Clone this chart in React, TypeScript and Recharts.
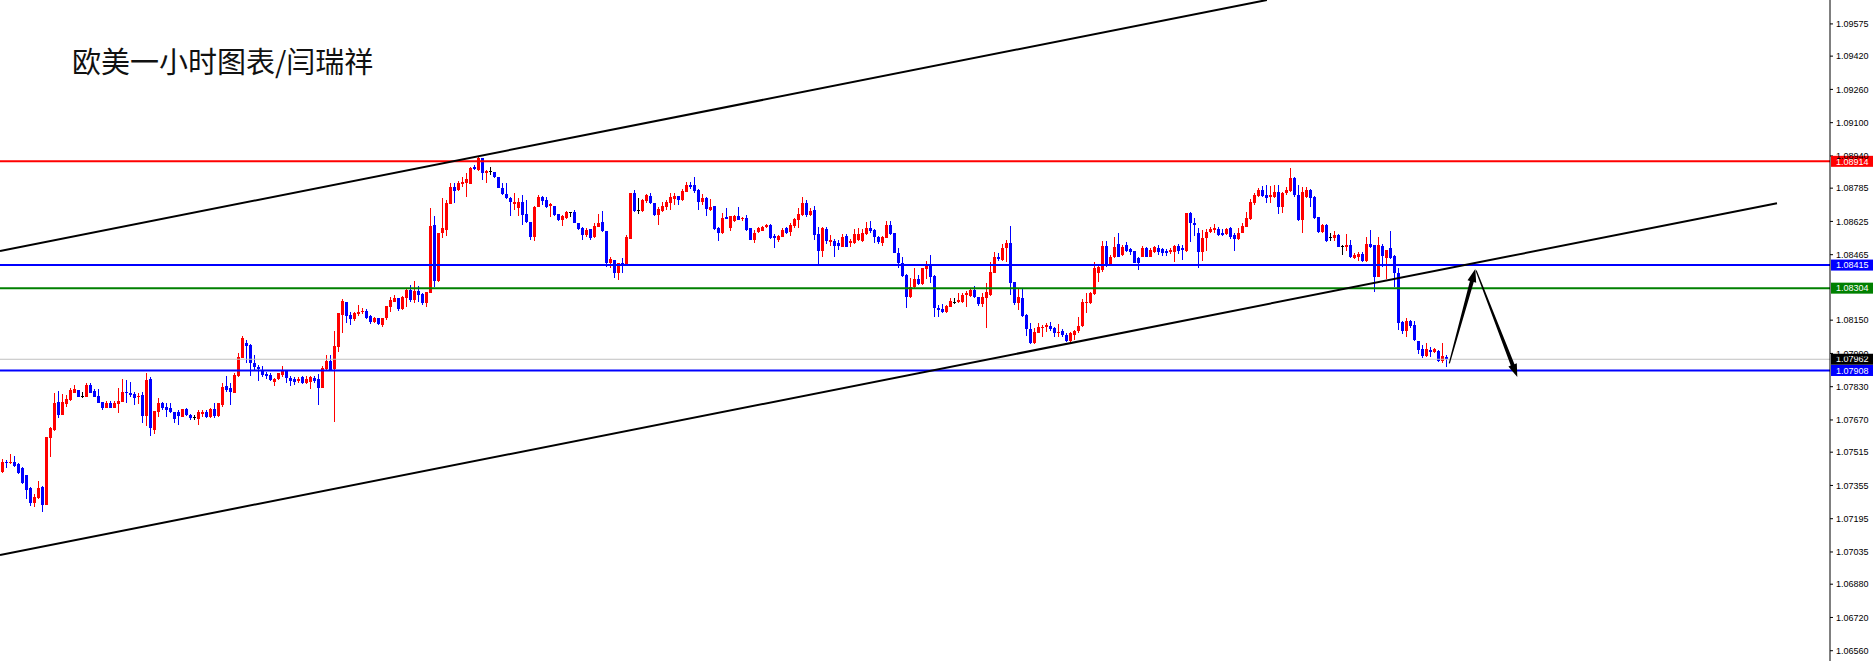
import React from 'react';
import { ComposedChart, Bar, XAxis, YAxis, ReferenceLine, ReferenceDot } from 'recharts';

// ---- EURUSD H1 candles ----
const openP = [
1.07420,1.07468,1.07463,1.07468,1.07458,1.07439,1.07405,1.07343,1.07271,1.07295,
1.07348,1.07261,1.07583,1.07622,1.07756,1.07694,1.07747,1.07766,1.07800,1.07814,
1.07785,1.07781,1.07838,1.07809,1.07785,1.07756,1.07728,1.07752,1.07728,1.07747,
1.07756,1.07805,1.07800,1.07795,1.07781,1.07790,1.07689,1.07867,1.07622,1.07708,
1.07752,1.07732,1.07728,1.07708,1.07708,1.07684,1.07723,1.07694,1.07684,1.07675,
1.07699,1.07708,1.07684,1.07723,1.07689,1.07742,1.07833,1.07824,1.07800,1.07881,
1.07968,1.08040,1.08031,1.07944,1.07925,1.07910,1.07891,1.07886,1.07853,1.07867,
1.07886,1.07906,1.07872,1.07867,1.07857,1.07877,1.07848,1.07853,1.07872,1.07867,
1.07824,1.07915,1.07954,1.07915,1.08021,1.08175,1.08237,1.08175,1.08156,1.08180,
1.08189,1.08194,1.08170,1.08141,1.08160,1.08127,1.08160,1.08213,1.08237,1.08257,
1.08204,1.08257,1.08295,1.08247,1.08290,1.08276,1.08233,1.08281,1.08608,1.08338,
1.08569,1.08584,1.08709,1.08791,1.08776,1.08805,1.08810,1.08805,1.08887,1.08872,
1.08930,1.08858,1.08868,1.08863,1.08839,1.08786,1.08757,1.08738,1.08709,1.08690,
1.08718,1.08661,1.08622,1.08550,1.08694,1.08742,1.08728,1.08699,1.08699,1.08661,
1.08632,1.08641,1.08670,1.08670,1.08617,1.08593,1.08560,1.08589,1.08550,1.08598,
1.08622,1.08579,1.08425,1.08439,1.08377,1.08425,1.08415,1.08540,1.08762,1.08680,
1.08675,1.08723,1.08747,1.08714,1.08656,1.08675,1.08694,1.08714,1.08733,1.08747,
1.08728,1.08767,1.08800,1.08800,1.08776,1.08718,1.08738,1.08680,1.08699,1.08593,
1.08569,1.08646,1.08593,1.08627,1.08651,1.08637,1.08641,1.08593,1.08536,1.08574,
1.08579,1.08598,1.08608,1.08555,1.08536,1.08550,1.08593,1.08574,1.08603,1.08632,
1.08656,1.08714,1.08656,1.08680,1.08565,1.08483,1.08589,1.08526,1.08531,1.08521,
1.08502,1.08555,1.08521,1.08521,1.08536,1.08531,1.08565,1.08593,1.08584,1.08550,
1.08521,1.08545,1.08608,1.08569,1.08473,1.08425,1.08367,1.08261,1.08310,1.08348,
1.08324,1.08396,1.08415,1.08362,1.08209,1.08204,1.08189,1.08213,1.08237,1.08237,
1.08237,1.08271,1.08266,1.08295,1.08261,1.08228,1.08257,1.08271,1.08377,1.08454,
1.08439,1.08497,1.08521,1.08334,1.08233,1.08257,1.08175,1.08108,1.08040,1.08088,
1.08112,1.08117,1.08122,1.08112,1.08088,1.08098,1.08079,1.08050,1.08079,1.08098,
1.08122,1.08233,1.08233,1.08276,1.08377,1.08391,1.08507,1.08420,1.08454,1.08516,
1.08463,1.08512,1.08492,1.08483,1.08449,1.08454,1.08497,1.08454,1.08478,1.08497,
1.08492,1.08483,1.08478,1.08478,1.08507,1.08497,1.08483,1.08666,1.08617,1.08569,
1.08478,1.08545,1.08574,1.08584,1.08589,1.08569,1.08565,1.08593,1.08560,1.08540,
1.08569,1.08598,1.08637,1.08714,1.08747,1.08776,1.08752,1.08742,1.08742,1.08767,
1.08694,1.08762,1.08771,1.08834,1.08752,1.08632,1.08742,1.08776,1.08742,1.08646,
1.08574,1.08608,1.08550,1.08545,1.08560,1.08507,1.08502,1.08512,1.08449,1.08454,
1.08468,1.08435,1.08516,1.08512,1.08358,1.08507,1.08449,1.08497,1.08459,1.08377,
1.08141,1.08098,1.08146,1.08127,1.08050,1.08011,1.07978,1.08007,1.07997,1.08002,
1.07954,1.07973,
];

const highP = [
1.07482,1.07477,1.07506,1.07497,1.07463,1.07444,1.07405,1.07348,1.07314,1.07376,
1.07352,1.07588,1.07636,1.07800,1.07809,1.07795,1.07790,1.07824,1.07838,1.07814,
1.07805,1.07848,1.07848,1.07819,1.07819,1.07756,1.07761,1.07761,1.07761,1.07824,
1.07867,1.07862,1.07853,1.07805,1.07800,1.07805,1.07896,1.07877,1.07713,1.07776,
1.07756,1.07752,1.07752,1.07708,1.07718,1.07723,1.07728,1.07699,1.07694,1.07718,
1.07718,1.07718,1.07728,1.07752,1.07752,1.07848,1.07881,1.07848,1.07896,1.07992,
1.08074,1.08055,1.08035,1.07982,1.07934,1.07930,1.07901,1.07896,1.07872,1.07896,
1.07930,1.07910,1.07881,1.07877,1.07877,1.07881,1.07881,1.07881,1.07881,1.07891,
1.07930,1.07982,1.07982,1.08098,1.08185,1.08252,1.08237,1.08189,1.08189,1.08223,
1.08209,1.08204,1.08175,1.08165,1.08160,1.08160,1.08218,1.08261,1.08271,1.08257,
1.08266,1.08300,1.08319,1.08338,1.08314,1.08281,1.08286,1.08690,1.08651,1.08569,
1.08738,1.08728,1.08810,1.08810,1.08819,1.08839,1.08858,1.08887,1.08896,1.08935,
1.08930,1.08872,1.08887,1.08863,1.08839,1.08810,1.08810,1.08742,1.08762,1.08738,
1.08752,1.08728,1.08622,1.08699,1.08752,1.08747,1.08742,1.08714,1.08699,1.08661,
1.08656,1.08675,1.08670,1.08680,1.08617,1.08598,1.08593,1.08589,1.08617,1.08661,
1.08675,1.08579,1.08454,1.08439,1.08425,1.08449,1.08560,1.08762,1.08776,1.08738,
1.08733,1.08757,1.08762,1.08714,1.08694,1.08718,1.08728,1.08762,1.08762,1.08747,
1.08781,1.08815,1.08815,1.08839,1.08781,1.08757,1.08742,1.08733,1.08699,1.08598,
1.08666,1.08690,1.08651,1.08656,1.08694,1.08646,1.08656,1.08593,1.08584,1.08598,
1.08603,1.08613,1.08613,1.08565,1.08560,1.08593,1.08598,1.08617,1.08641,1.08690,
1.08742,1.08728,1.08690,1.08699,1.08598,1.08598,1.08598,1.08560,1.08540,1.08536,
1.08565,1.08565,1.08540,1.08589,1.08593,1.08589,1.08622,1.08627,1.08589,1.08555,
1.08555,1.08627,1.08627,1.08569,1.08497,1.08454,1.08372,1.08353,1.08401,1.08367,
1.08401,1.08435,1.08463,1.08367,1.08223,1.08228,1.08223,1.08257,1.08257,1.08281,
1.08281,1.08290,1.08300,1.08314,1.08261,1.08281,1.08329,1.08430,1.08478,1.08473,
1.08516,1.08536,1.08603,1.08334,1.08305,1.08305,1.08180,1.08136,1.08112,1.08136,
1.08127,1.08136,1.08141,1.08117,1.08132,1.08108,1.08088,1.08093,1.08103,1.08165,
1.08252,1.08281,1.08286,1.08430,1.08420,1.08531,1.08531,1.08463,1.08550,1.08569,
1.08512,1.08526,1.08497,1.08483,1.08454,1.08507,1.08502,1.08497,1.08507,1.08512,
1.08497,1.08492,1.08497,1.08512,1.08516,1.08512,1.08666,1.08670,1.08641,1.08593,
1.08584,1.08589,1.08598,1.08613,1.08598,1.08589,1.08593,1.08598,1.08569,1.08593,
1.08617,1.08670,1.08733,1.08762,1.08786,1.08795,1.08800,1.08795,1.08800,1.08800,
1.08767,1.08791,1.08882,1.08839,1.08800,1.08791,1.08791,1.08781,1.08747,1.08646,
1.08613,1.08613,1.08569,1.08579,1.08565,1.08512,1.08565,1.08536,1.08473,1.08478,
1.08478,1.08550,1.08584,1.08512,1.08550,1.08516,1.08488,1.08579,1.08463,1.08401,
1.08146,1.08160,1.08151,1.08146,1.08050,1.08031,1.08040,1.08021,1.08016,1.08007,
1.08040,1.07982,
];

const lowP = [
1.07415,1.07439,1.07458,1.07444,1.07410,1.07362,1.07290,1.07256,1.07251,1.07290,
1.07227,1.07261,1.07492,1.07617,1.07679,1.07694,1.07732,1.07761,1.07800,1.07781,
1.07776,1.07781,1.07800,1.07781,1.07752,1.07718,1.07728,1.07728,1.07728,1.07704,
1.07756,1.07752,1.07781,1.07742,1.07747,1.07655,1.07641,1.07593,1.07602,1.07684,
1.07718,1.07684,1.07704,1.07655,1.07646,1.07684,1.07689,1.07670,1.07670,1.07646,
1.07684,1.07679,1.07679,1.07679,1.07684,1.07732,1.07805,1.07742,1.07800,1.07877,
1.07968,1.07944,1.07881,1.07906,1.07857,1.07877,1.07867,1.07857,1.07833,1.07862,
1.07877,1.07848,1.07833,1.07838,1.07848,1.07843,1.07843,1.07819,1.07848,1.07742,
1.07824,1.07910,1.07910,1.07660,1.07997,1.08088,1.08136,1.08127,1.08146,1.08170,
1.08180,1.08156,1.08132,1.08136,1.08127,1.08117,1.08151,1.08189,1.08237,1.08194,
1.08199,1.08213,1.08237,1.08233,1.08237,1.08223,1.08213,1.08281,1.08310,1.08334,
1.08545,1.08555,1.08709,1.08714,1.08771,1.08791,1.08742,1.08805,1.08872,1.08868,
1.08824,1.08810,1.08848,1.08834,1.08786,1.08752,1.08733,1.08651,1.08680,1.08651,
1.08608,1.08617,1.08536,1.08531,1.08694,1.08704,1.08690,1.08646,1.08651,1.08627,
1.08603,1.08637,1.08646,1.08617,1.08584,1.08536,1.08550,1.08536,1.08545,1.08598,
1.08574,1.08406,1.08401,1.08353,1.08343,1.08377,1.08415,1.08540,1.08670,1.08661,
1.08670,1.08714,1.08709,1.08651,1.08608,1.08670,1.08680,1.08680,1.08704,1.08704,
1.08723,1.08767,1.08781,1.08762,1.08680,1.08704,1.08651,1.08675,1.08584,1.08531,
1.08565,1.08637,1.08579,1.08622,1.08632,1.08627,1.08579,1.08536,1.08521,1.08569,
1.08579,1.08593,1.08540,1.08497,1.08526,1.08550,1.08565,1.08555,1.08593,1.08593,
1.08651,1.08646,1.08651,1.08536,1.08420,1.08454,1.08516,1.08507,1.08454,1.08488,
1.08502,1.08502,1.08502,1.08516,1.08531,1.08526,1.08560,1.08569,1.08521,1.08516,
1.08507,1.08545,1.08560,1.08473,1.08401,1.08358,1.08209,1.08257,1.08305,1.08319,
1.08319,1.08348,1.08329,1.08165,1.08165,1.08185,1.08185,1.08213,1.08228,1.08233,
1.08233,1.08213,1.08261,1.08257,1.08218,1.08213,1.08112,1.08266,1.08377,1.08435,
1.08435,1.08430,1.08271,1.08223,1.08199,1.08165,1.08074,1.08035,1.08035,1.08088,
1.08069,1.08093,1.08098,1.08069,1.08069,1.08069,1.08045,1.08045,1.08055,1.08088,
1.08117,1.08185,1.08228,1.08271,1.08334,1.08382,1.08406,1.08411,1.08449,1.08454,
1.08459,1.08478,1.08463,1.08425,1.08391,1.08454,1.08454,1.08454,1.08473,1.08463,
1.08459,1.08459,1.08468,1.08430,1.08468,1.08439,1.08478,1.08526,1.08555,1.08401,
1.08435,1.08483,1.08569,1.08569,1.08555,1.08555,1.08560,1.08540,1.08483,1.08536,
1.08569,1.08598,1.08632,1.08704,1.08742,1.08742,1.08714,1.08714,1.08738,1.08661,
1.08666,1.08752,1.08767,1.08742,1.08627,1.08569,1.08738,1.08694,1.08637,1.08569,
1.08569,1.08526,1.08531,1.08531,1.08502,1.08463,1.08483,1.08449,1.08444,1.08435,
1.08430,1.08430,1.08497,1.08286,1.08358,1.08406,1.08348,1.08444,1.08310,1.08103,
1.08084,1.08069,1.08112,1.08050,1.07987,1.07968,1.07973,1.07973,1.07992,1.07949,
1.07944,1.07925,
];

const closeP = [
1.07468,1.07463,1.07468,1.07449,1.07415,1.07367,1.07333,1.07271,1.07299,1.07343,
1.07261,1.07588,1.07631,1.07752,1.07694,1.07756,1.07771,1.07814,1.07819,1.07781,
1.07785,1.07838,1.07800,1.07781,1.07752,1.07728,1.07752,1.07728,1.07752,1.07761,
1.07805,1.07800,1.07790,1.07776,1.07785,1.07689,1.07862,1.07631,1.07713,1.07752,
1.07728,1.07718,1.07708,1.07675,1.07689,1.07723,1.07694,1.07679,1.07684,1.07708,
1.07708,1.07684,1.07723,1.07689,1.07752,1.07829,1.07814,1.07805,1.07886,1.07973,
1.08064,1.08026,1.07944,1.07925,1.07915,1.07886,1.07881,1.07862,1.07867,1.07896,
1.07906,1.07872,1.07857,1.07853,1.07867,1.07848,1.07867,1.07877,1.07857,1.07824,
1.07920,1.07954,1.07910,1.08026,1.08185,1.08242,1.08170,1.08156,1.08185,1.08189,
1.08194,1.08160,1.08141,1.08160,1.08132,1.08160,1.08218,1.08247,1.08257,1.08204,
1.08261,1.08295,1.08247,1.08290,1.08271,1.08233,1.08286,1.08603,1.08338,1.08569,
1.08593,1.08714,1.08791,1.08771,1.08810,1.08815,1.08829,1.08882,1.08877,1.08930,
1.08858,1.08868,1.08868,1.08839,1.08786,1.08757,1.08738,1.08718,1.08718,1.08718,
1.08656,1.08622,1.08550,1.08694,1.08742,1.08723,1.08694,1.08709,1.08656,1.08632,
1.08651,1.08670,1.08670,1.08617,1.08589,1.08560,1.08584,1.08545,1.08603,1.08617,
1.08579,1.08425,1.08444,1.08377,1.08425,1.08415,1.08550,1.08762,1.08675,1.08680,
1.08728,1.08752,1.08714,1.08656,1.08685,1.08699,1.08718,1.08742,1.08747,1.08728,
1.08771,1.08800,1.08791,1.08771,1.08718,1.08738,1.08685,1.08694,1.08589,1.08569,
1.08641,1.08637,1.08651,1.08651,1.08632,1.08641,1.08584,1.08536,1.08569,1.08593,
1.08598,1.08608,1.08545,1.08545,1.08555,1.08584,1.08569,1.08608,1.08637,1.08661,
1.08714,1.08656,1.08675,1.08560,1.08483,1.08593,1.08531,1.08536,1.08507,1.08507,
1.08550,1.08502,1.08531,1.08565,1.08565,1.08569,1.08593,1.08579,1.08550,1.08526,
1.08550,1.08608,1.08565,1.08473,1.08425,1.08362,1.08261,1.08310,1.08348,1.08324,
1.08401,1.08415,1.08358,1.08209,1.08199,1.08189,1.08218,1.08242,1.08237,1.08247,
1.08271,1.08281,1.08295,1.08261,1.08228,1.08261,1.08286,1.08382,1.08454,1.08444,
1.08497,1.08521,1.08329,1.08233,1.08261,1.08170,1.08108,1.08040,1.08093,1.08117,
1.08117,1.08127,1.08108,1.08088,1.08093,1.08079,1.08050,1.08088,1.08098,1.08122,
1.08237,1.08237,1.08281,1.08401,1.08406,1.08507,1.08411,1.08454,1.08502,1.08454,
1.08502,1.08483,1.08478,1.08425,1.08425,1.08497,1.08454,1.08488,1.08502,1.08478,
1.08473,1.08473,1.08488,1.08507,1.08483,1.08488,1.08666,1.08617,1.08608,1.08478,
1.08545,1.08574,1.08589,1.08593,1.08560,1.08560,1.08589,1.08550,1.08540,1.08569,
1.08603,1.08641,1.08718,1.08752,1.08776,1.08747,1.08738,1.08752,1.08767,1.08694,
1.08762,1.08776,1.08834,1.08752,1.08632,1.08767,1.08776,1.08738,1.08641,1.08574,
1.08608,1.08531,1.08550,1.08560,1.08502,1.08507,1.08512,1.08454,1.08463,1.08468,
1.08435,1.08516,1.08502,1.08358,1.08512,1.08459,1.08488,1.08449,1.08377,1.08136,
1.08098,1.08146,1.08122,1.08055,1.08007,1.07978,1.08011,1.07997,1.08011,1.07954,
1.07978,1.07963,
];

// ---- price axis ticks (right scale) ----
const yTicks = [
  1.09575, 1.0942, 1.0926, 1.091, 1.0894, 1.08785, 1.08625, 1.08465, 1.0815,
  1.0799, 1.0783, 1.0767, 1.07515, 1.07355, 1.07195, 1.07035, 1.0688, 1.0672, 1.0656,
];
const yDomain = [1.065106, 1.0969];
const xDomain = [-0.625, 456.875];

// ---- horizontal levels ----
const resistanceLevel = 1.08914;
const upperBlueLevel = 1.08415;
const greenLevel = 1.08304;
const bidLevel = 1.07962;
const lowerBlueLevel = 1.07908;

// ---- channel lines & projection arrows (bar index, price) ----
const channelUpper = [{ x: -0.625, y: 1.084827 }, { x: 316.1, y: 1.0969 }];
const channelLower = [{ x: -0.625, y: 1.070204 }, { x: 443.625, y: 1.087126 }];
const arrowUp = [{ x: 361.7, y: 1.079425 }, { x: 368.2, y: 1.083961 }];
const arrowDown = [{ x: 368.4, y: 1.083889 }, { x: 378.7, y: 1.078766 }];

const titleText = '欧美一小时图表/闫瑞祥';

const tableData = openP.map((o, i) => ({
  i,
  o,
  h: highP[i],
  l: lowP[i],
  c: closeP[i],
  range: [lowP[i], highP[i]],
}));

const AXIS_FONT = '"Liberation Sans", Arial, sans-serif';

function Candle(props: any) {
  const { x, y, width, height, payload } = props;
  if (!payload || x == null || y == null) return null;
  const { o, h, l, c } = payload;
  const span = h - l;
  const k = span > 0 ? height / span : 0;
  const yOf = (v: number) => y + (h - v) * k;
  const color = c > o ? '#ff0000' : c < o ? '#0000ff' : '#000000';
  const w = Math.max(1, Math.round(width));
  const left = Math.round(x);
  const wickX = left + Math.floor(w / 2);
  const wTop = Math.round(y);
  const wBot = Math.round(y + height);
  const top = Math.round(yOf(Math.max(o, c)));
  const bot = Math.round(yOf(Math.min(o, c)));
  return (
    <g>
      <rect x={wickX} y={wTop} width={1} height={Math.max(1, wBot - wTop)} fill={color} />
      <rect x={left} y={top} width={w} height={Math.max(1, bot - top)} fill={color} />
    </g>
  );
}

function ArrowShape(props: any) {
  const { x1, y1, x2, y2 } = props;
  if ([x1, y1, x2, y2].some((v) => v == null || Number.isNaN(v))) return null;
  const dx = x2 - x1;
  const dy = y2 - y1;
  const len = Math.hypot(dx, dy) || 1;
  const ux = dx / len;
  const uy = dy / len;
  const nx = -uy;
  const ny = ux;
  const headLen = 13;
  const headHalf = 4.5;
  const w0 = 0.6;
  const w1 = 2;
  const bx = x2 - ux * headLen;
  const by = y2 - uy * headLen;
  const pts = [
    [x1 + nx * w0, y1 + ny * w0],
    [bx + nx * w1, by + ny * w1],
    [bx + nx * headHalf, by + ny * headHalf],
    [x2, y2],
    [bx - nx * headHalf, by - ny * headHalf],
    [bx - nx * w1, by - ny * w1],
    [x1 - nx * w0, y1 - ny * w0],
  ];
  return <polygon points={pts.map((p) => `${p[0]},${p[1]}`).join(' ')} fill="#000000" />;
}

function makeTag(bg: string, value: number) {
  return (props: any) => {
    const { cx, cy } = props;
    if (cx == null || cy == null) return null;
    return (
      <g>
        <rect x={cx + 1} y={cy - 5.5} width={42} height={11} fill={bg} />
        <text
          x={cx + 6}
          y={cy}
          dy="0.36em"
          fill="#ffffff"
          fontSize={9}
          fontFamily={AXIS_FONT}
        >
          {value.toFixed(5)}
        </text>
      </g>
    );
  };
}

export default function App() {
  return (
    <div style={{ position: 'absolute', left: 0, top: 0, width: 1875, height: 661, background: '#ffffff' }}>
      <ComposedChart
        width={1875}
        height={661}
        data={tableData}
        margin={{ top: 0, right: 0, bottom: 0, left: 0 }}
      >
        <XAxis dataKey="i" type="number" domain={xDomain} allowDataOverflow hide />
        <YAxis
          orientation="right"
          type="number"
          domain={yDomain}
          allowDataOverflow
          ticks={yTicks}
          interval={0}
          width={45}
          tickSize={3}
          tickMargin={3}
          axisLine={{ stroke: '#000000' }}
          tickLine={{ stroke: '#000000' }}
          tick={{ fill: '#000000', fontSize: 9, fontFamily: AXIS_FONT }}
          tickFormatter={(v: number) => v.toFixed(5)}
        />
        <ReferenceLine y={bidLevel} stroke="#c0c0c0" strokeWidth={1} ifOverflow="visible" />
        <ReferenceLine y={resistanceLevel} stroke="#ff0000" strokeWidth={2} ifOverflow="visible" />
        <ReferenceLine y={upperBlueLevel} stroke="#0000ff" strokeWidth={2} ifOverflow="visible" />
        <ReferenceLine y={greenLevel} stroke="#008000" strokeWidth={2} ifOverflow="visible" />
        <ReferenceLine y={lowerBlueLevel} stroke="#0000ff" strokeWidth={2} ifOverflow="visible" />
        <Bar
          dataKey="range"
          barSize={3}
          isAnimationActive={false}
          shape={(p: any) => <Candle {...p} />}
        />
        <ReferenceLine segment={channelUpper} stroke="#000000" strokeWidth={2} ifOverflow="visible" />
        <ReferenceLine segment={channelLower} stroke="#000000" strokeWidth={2} ifOverflow="visible" />
        <ReferenceLine segment={arrowUp} ifOverflow="visible" shape={ArrowShape} />
        <ReferenceLine segment={arrowDown} ifOverflow="visible" shape={ArrowShape} />
        <ReferenceDot x={xDomain[1]} y={resistanceLevel} r={0} ifOverflow="visible" shape={makeTag('#ff0000', resistanceLevel)} />
        <ReferenceDot x={xDomain[1]} y={upperBlueLevel} r={0} ifOverflow="visible" shape={makeTag('#0000ff', upperBlueLevel)} />
        <ReferenceDot x={xDomain[1]} y={greenLevel} r={0} ifOverflow="visible" shape={makeTag('#008000', greenLevel)} />
        <ReferenceDot x={xDomain[1]} y={bidLevel} r={0} ifOverflow="visible" shape={makeTag('#000000', bidLevel)} />
        <ReferenceDot x={xDomain[1]} y={lowerBlueLevel} r={0} ifOverflow="visible" shape={makeTag('#0000ff', lowerBlueLevel)} />
      </ComposedChart>
      <svg
        width={420}
        height={100}
        style={{ position: 'absolute', left: 0, top: 0, pointerEvents: 'none' }}
      >
        <text
          x={72}
          y={73}
          fontSize={29}
          fontFamily='"Noto Sans CJK SC", sans-serif'
          fill="#111111"
        >
          {titleText}
        </text>
      </svg>
    </div>
  );
}
